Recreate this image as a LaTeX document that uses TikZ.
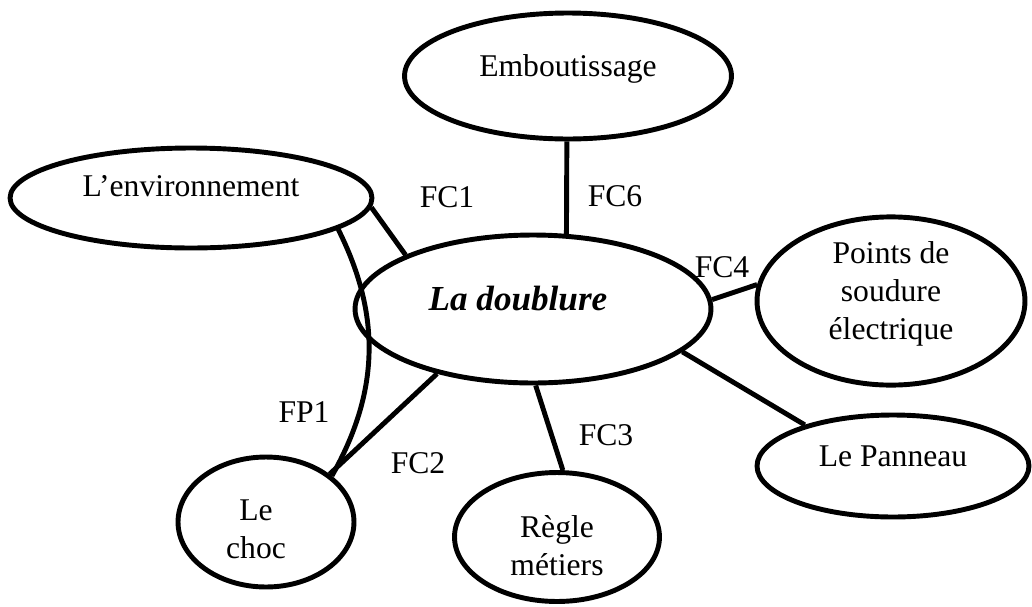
\documentclass[tikz,border=0pt]{standalone}
\usepackage{fontspec}
\setmainfont{Liberation Serif}
\usetikzlibrary{shapes.geometric}

\begin{document}
\begin{tikzpicture}[x=0.02cm, y=-0.02cm,
        bubble/.style={ellipse, draw, line width=2.8pt, inner sep=0pt, align=center,
                font=\fontsize{18}{21.6}\selectfont},
        link/.style={line width=2.8pt},
        tag/.style={inner sep=0pt, font=\fontsize{18}{21.6}\selectfont}]
        \useasboundingbox (0,0) rectangle (1032,606);

        % the ellipses
        \node[bubble, minimum width=6.54cm, minimum height=2.52cm, text height=12pt, text depth=12pt] (emb) at (568,76) {Emboutissage};
        \node[bubble, minimum width=7.24cm, minimum height=2.00cm, text height=12pt, text depth=14pt] (env) at (191,198) {L'environnement};
        \node[bubble, minimum width=7.12cm, minimum height=2.96cm, text height=14pt, text depth=12pt,
                font=\fontsize{20}{24}\selectfont\bfseries\itshape] (doub) at (533,309) {\hspace*{-0.6cm}La doublure};
        \node[bubble, minimum width=5.36cm, minimum height=2.84cm] (pts) at (891,301) {Points de\\soudure\\électrique\rule[-12pt]{0pt}{0pt}};
        \node[bubble, minimum width=5.44cm, minimum height=2.04cm, text height=12pt, text depth=12pt] (pan) at (893,466) {Le Panneau};
        \node[bubble, minimum width=3.52cm, minimum height=2.60cm] (choc) at (266,522) {\hspace*{-0.4cm}\rule{0pt}{20pt}Le\\\hspace*{-0.4cm}choc};
        \node[bubble, minimum width=4.10cm, minimum height=2.58cm] (regle) at (557,537) {\rule{0pt}{22.5pt}Règle\\métiers};

        % the links
        \draw[link] (env.-3) -- (doub.157);
        \draw[link] (env.-12) to[bend left=28] (choc.35);
        \draw[link] (doub.-146) -- (choc.37);
        \draw[link] (doub.-88) -- (regle.85);
        \draw[link] (doub.3) -- (pts.173);
        \draw[link] (doub.-16) -- (pan.155);
        \draw[link] (emb.-91) -- (doub.66);

        % the labels
        \node[tag] (fc1) at (447,197) {FC1};
        \node[tag] (fc6) at (615,196) {FC6};
        \node[tag] (fc4) at (722,267) {FC4};
        \node[tag] (fp1) at (304,412) {FP1};
        \node[tag] (fc2) at (418,463) {FC2};
        \node[tag] (fc3) at (606,435) {FC3};
\end{tikzpicture}
\end{document}
